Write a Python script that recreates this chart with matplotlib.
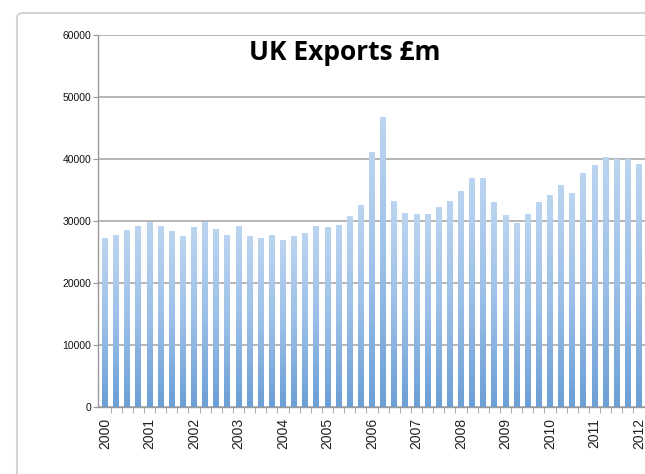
import matplotlib
matplotlib.use("Agg")
import matplotlib.pyplot as plt
from matplotlib.patches import FancyBboxPatch
from matplotlib.colors import LinearSegmentedColormap
import numpy as np

# quarterly exports, £m, 2000 Q1 .. 2012 Q1 (chart is cropped on the right)
years = [str(y) for y in range(2000, 2013)]
exports = [
    27200, 27700, 28500, 29200,
    29800, 29200, 28400, 27500,
    29000, 29800, 28700, 27700,
    29200, 27500, 27200, 27700,
    27000, 27600, 28100, 29200,
    29000, 29400, 30800, 32500,
    41200, 46700, 33200, 31300,
    31100, 31200, 32300, 33300,
    34900, 36900, 37000, 33100,
    31000, 29600, 31200, 33000,
    34200, 35800, 34500, 37700,
    39000, 40300, 40000, 40000,
    39200,
]

W, H = 645, 474
fig = plt.figure(figsize=(W / 100, H / 100), dpi=100)

# outer chart frame (runs off the right and bottom edge)
frame = FancyBboxPatch((17 / W, -0.2), 1.2, 1.2 - 13 / H,
                       boxstyle="round,pad=0,rounding_size=0.01",
                       transform=fig.transFigure, facecolor="none",
                       edgecolor="#d4d4d4", linewidth=1.5, zorder=0)
fig.patches.append(frame)

ax = fig.add_axes([98 / W, 1 - 407 / H, 1 - 98 / W, (407 - 35) / H])
ax.set_facecolor("none")

x = np.arange(len(exports))
bars = ax.bar(x, exports, width=0.52, color="#a9c7ea", edgecolor="none",
              zorder=3)

# excel-style vertical gradient, darker at the base
cmap = LinearSegmentedColormap.from_list("xl", ["#bcd5f0", "#9cc0e8", "#6c9fd6"])
grad = np.linspace(0, 1, 64).reshape(-1, 1)
for b in bars:
    x0, w, h = b.get_x(), b.get_width(), b.get_height()
    im = ax.imshow(grad, cmap=cmap, aspect="auto", origin="upper",
                   extent=(x0, x0 + w, 0, h), zorder=4)
    im.set_clip_path(b)

ax.set_ylim(0, 60000)
ax.set_yticks(range(0, 60001, 10000))
ax.yaxis.grid(True, color="#b5b5b5", linewidth=1.4, zorder=0)
ax.set_axisbelow(True)
ax.set_xlim(-0.63, 48.54)

ax.set_xticks(x[::4])
ax.set_xticklabels(years, rotation=90, fontsize=10, family="Liberation Sans",
                   color="#222222")
ax.set_xticks(x + 0.5, minor=True)
ax.tick_params(axis="x", which="major", length=0, pad=8)
ax.tick_params(axis="x", which="minor", length=4, color="#999999")
ax.tick_params(axis="y", length=3.5, color="#999999", labelsize=7.5, pad=1.5,
               labelcolor="#111111")
for lab in ax.get_yticklabels():
    lab.set_family("Liberation Sans")

for side in ["top", "right"]:
    ax.spines[side].set_visible(False)
for side in ["left", "bottom"]:
    ax.spines[side].set_color("#999999")
    ax.spines[side].set_linewidth(1.0)

fig.text(345 / W, 1 - 52 / H, "UK Exports £m", ha="center", va="center",
         fontsize=19, fontweight="bold", family="Open Sans")

fig.savefig("out.png", dpi=100)
